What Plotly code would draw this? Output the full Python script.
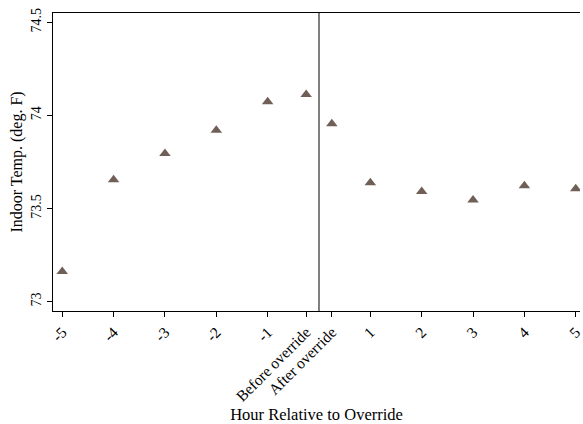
import plotly.graph_objects as go

# Hours relative to the override event; the two override points sit either side of 0
hour_pos = [-5, -4, -3, -2, -1, -0.25, 0.25, 1, 2, 3, 4, 5]
hour_labels = ["-5", "-4", "-3", "-2", "-1", "Before override", "After override",
               "1", "2", "3", "4", "5"]
indoor_temp = [73.162, 73.655, 73.795, 73.92, 74.073, 74.113, 73.955,
               73.638, 73.591, 73.546, 73.623, 73.606]
override_at = 0
y_ticks = [73, 73.5, 74, 74.5]

FONT = "Liberation Serif"

fig = go.Figure()
fig.add_trace(go.Scatter(
    x=hour_pos, y=indoor_temp, mode="markers",
    marker=dict(symbol="triangle-up", size=10, color="#6f5f57", line=dict(width=0)),
    showlegend=False, hoverinfo="x+y",
))

fig.add_shape(type="line", xref="x", yref="paper", x0=override_at, x1=override_at,
              y0=0, y1=1, line=dict(color="#555555", width=1.5))

fig.update_layout(
    width=583, height=424,
    margin=dict(l=53, r=0, t=13, b=113),
    paper_bgcolor="white", plot_bgcolor="white",
    font=dict(family=FONT, size=14, color="black"),
    xaxis=dict(
        range=[-5.18, 5.083], tickmode="array", tickvals=hour_pos, ticktext=hour_labels,
        tickangle=-45, ticks="outside", ticklen=5, tickwidth=1.2, tickcolor="black",
        showline=True, linecolor="black", linewidth=1.3, mirror=True,
        showgrid=False, zeroline=False, ticklabeloverflow="allow",
        tickfont=dict(family=FONT, size=15.5),
        title=dict(text="Hour Relative to Override", font=dict(family=FONT, size=16.5),
                   standoff=4),
    ),
    yaxis=dict(
        range=[72.95, 74.55], tickmode="array", tickvals=y_ticks,
        ticktext=["73", "73.5", "74", "74.5"],
        tickangle=-90, ticks="outside", ticklen=5, tickwidth=1.2, tickcolor="black",
        showline=True, linecolor="black", linewidth=1.3, mirror=False,
        showgrid=False, zeroline=False,
        tickfont=dict(family=FONT, size=14),
        title=dict(text="Indoor Temp. (deg. F)", font=dict(family=FONT, size=16),
                   standoff=2),
    ),
)

fig.write_html("out.html")
